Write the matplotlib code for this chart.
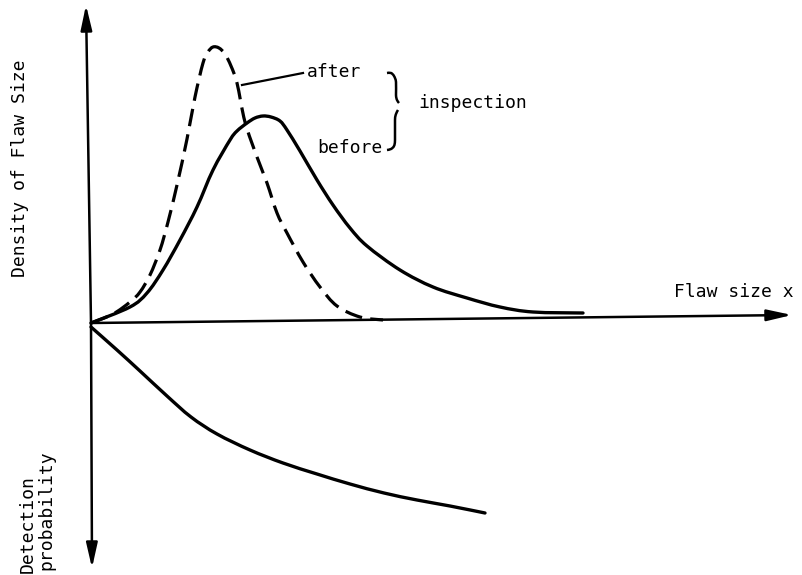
import matplotlib
matplotlib.use("Agg")
import matplotlib.pyplot as plt
import numpy as np
from matplotlib.path import Path
from matplotlib.patches import PathPatch

# Data (units: flaw size on x, density up / detection probability down)
before_x = [0, 39, 56, 72, 89, 106, 122, 139, 146, 156, 164, 172, 180, 189, 196, 209, 226, 242, 259, 276, 309, 342, 376, 409, 442, 492]
before_y = [0, 16, 30, 53, 83, 116, 153, 183, 192, 200, 205, 207, 206, 202, 193, 172, 143, 118, 95, 77, 53, 36, 25, 16, 11, 10]

after_x = [0, 22, 39, 49, 59, 69, 77, 86, 96, 104, 112, 117, 122, 128, 134, 140, 146, 154, 166, 176, 186, 196, 212, 229, 246, 269, 292]
after_y = [0, 9, 21, 31, 48, 73, 101, 138, 184, 226, 260, 271, 276, 275, 269, 257, 240, 201, 166, 140, 110, 90, 61, 36, 17, 6, 3]

detect_x = [0, 26, 49, 76, 100, 126, 159, 192, 226, 259, 293, 326, 359, 394]
detect_y = [-4, -27, -48, -73, -94, -111, -127, -140, -151, -161, -170, -177, -183, -190]

brace_upper_x = [296, 300, 303, 305, 305, 306, 308]
brace_upper_y = [250, 250, 247, 241, 228, 223, 220]
brace_lower_x = [307, 305, 304, 304, 303, 300, 296]
brace_lower_y = [213, 209, 203, 183, 177, 174, 173]


def smooth_path(xs, ys):
    """Catmull-Rom curve through the points, drawn as cubic Bezier segments."""
    p = np.column_stack([xs, ys]).astype(float)
    n = len(p)
    verts = [p[0]]
    codes = [Path.MOVETO]
    for i in range(n - 1):
        p0 = p[i - 1] if i > 0 else p[i]
        p3 = p[i + 2] if i + 2 < n else p[i + 1]
        c1 = p[i] + (p[i + 1] - p0) / 6.0
        c2 = p[i + 1] - (p3 - p[i]) / 6.0
        verts += [c1, c2, p[i + 1]]
        codes += [Path.CURVE4] * 3
    return Path(verts, codes)


fig = plt.figure(figsize=(8.03, 5.75), dpi=100)
ax = fig.add_axes([0, 0, 1, 1])
ax.set_xlim(-91, 712)
ax.set_ylim(-252, 323)
ax.axis("off")

axis_kw = dict(arrowstyle="-|>,head_length=0.75,head_width=0.17", color="black", lw=1.8,
               mutation_scale=20, shrinkA=0, shrinkB=0)
ax.annotate("", xy=(-5, 318), xytext=(0, 0), arrowprops=axis_kw)
ax.annotate("", xy=(1, -245), xytext=(0, 0), arrowprops=axis_kw)
ax.annotate("", xy=(701, 8), xytext=(0, 0), arrowprops=axis_kw)

ax.add_patch(PathPatch(smooth_path(before_x, before_y), fill=False, ec="black", lw=2.4,
                       capstyle="round", joinstyle="round"))
ax.add_patch(PathPatch(smooth_path(after_x, after_y), fill=False, ec="black", lw=2.3,
                       linestyle=(0, (5.5, 2.6)), capstyle="butt"))
ax.add_patch(PathPatch(smooth_path(detect_x, detect_y), fill=False, ec="black", lw=2.4,
                       capstyle="round", joinstyle="round"))

# leader line and brace
ax.plot([151, 212], [238, 250], color="black", lw=1.6)
ax.add_patch(PathPatch(smooth_path(brace_upper_x, brace_upper_y), fill=False, ec="black", lw=1.8))
ax.add_patch(PathPatch(smooth_path(brace_lower_x, brace_lower_y), fill=False, ec="black", lw=1.8))

font = dict(family="DejaVu Sans Mono", fontsize=13, color="black")
ax.text(216, 251, "after", ha="left", va="center", **font)
ax.text(226, 175, "before", ha="left", va="center", **font)
ax.text(327, 220, "inspection", ha="left", va="center", **font)
ax.text(583, 31, "Flaw size x", ha="left", va="center", **font)
ax.text(-71, 155, "Density of Flaw Size", rotation=90, ha="center", va="center", **font)
ax.text(-63, -250, "Detection", rotation=90, ha="center", va="bottom", **font)
ax.text(-45, -247, "probability", rotation=90, ha="center", va="bottom", **font)

fig.savefig("out.png", dpi=100)
